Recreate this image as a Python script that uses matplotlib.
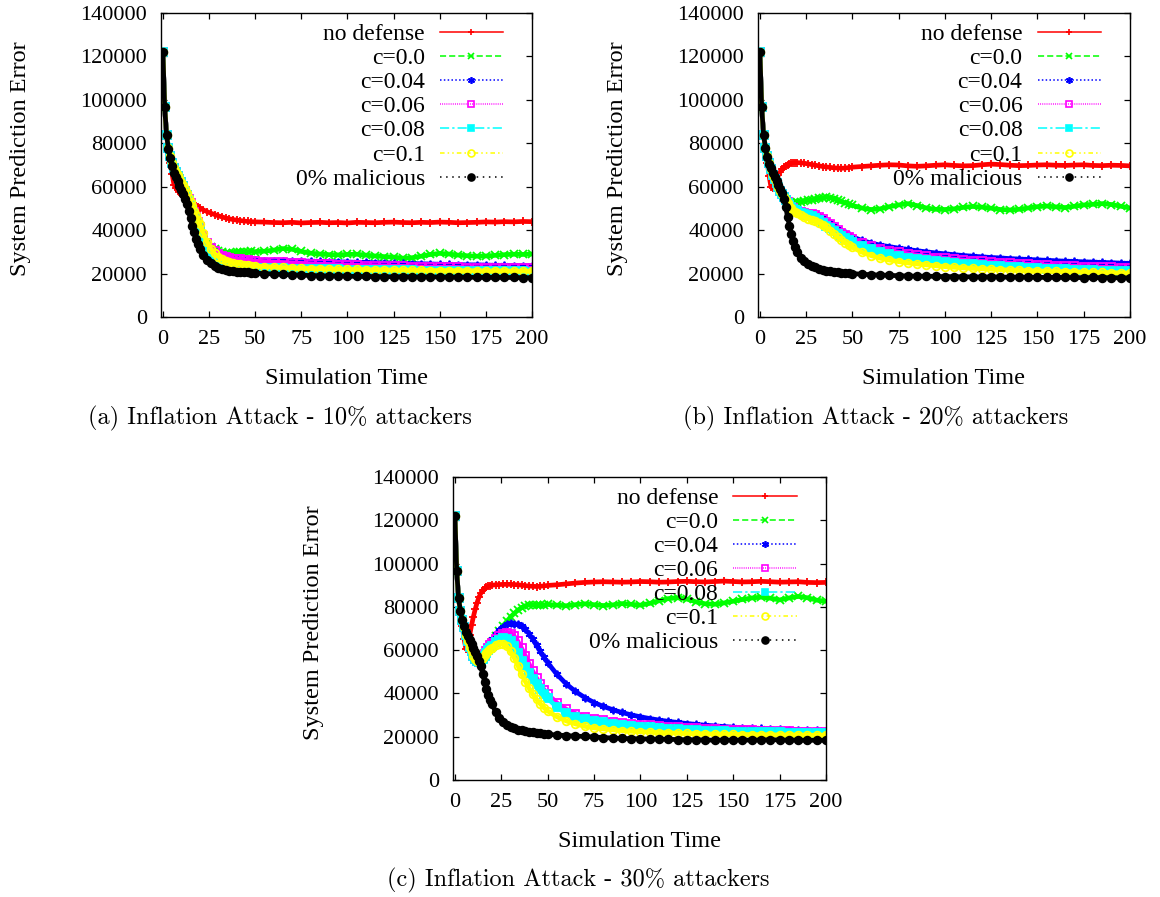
import matplotlib
matplotlib.use('Agg')
import matplotlib.pyplot as plt
from matplotlib.lines import Line2D

plt.rcParams['font.family'] = ['Liberation Serif', 'DejaVu Serif']

# simulation time steps (shared by every series)
t = [0, 1, 2, 3, 4, 5, 6, 7, 8, 9, 10, 11, 12, 13, 14, 15, 16, 17, 18, 19, 20,
     22, 24, 26, 28, 30, 32, 34, 36, 38, 40, 42, 44, 46, 48, 50,
     55, 60, 65, 70, 75, 80, 85, 90, 95, 100, 105, 110, 115, 120, 125, 130, 135, 140,
     145, 150, 155, 160, 165, 170, 175, 180, 185, 190, 195, 200]

# values in thousands
# (a) 10% attackers
a_red = [122, 96.5, 84, 77, 71, 66, 61, 59.5, 58.5, 57.5, 56.5, 55.8, 55, 54.3, 53.6, 53, 52.3, 51.7, 51.1, 50.6, 50.1,
         49.3, 48.5, 47.8, 47.2, 46.6, 46.1, 45.6, 45.2, 44.9, 44.6, 44.4, 44.2, 44.0, 43.9, 43.8,
         43.7, 43.5, 43.4, 43.6, 43.3, 43.5, 43.6, 43.4, 43.5, 43.3, 43.6, 43.5, 43.4, 43.6, 43.7, 43.5, 43.4, 43.6,
         43.5, 43.7, 43.6, 43.4, 43.5, 43.6, 43.8, 43.7, 43.9, 43.8, 44.0, 43.9]
a_green = [122, 96.5, 84, 78, 74, 71, 68.5, 66.8, 65, 63.6, 62, 60.2, 58.2, 56, 54, 52, 50, 47.8, 45.5, 43.2, 41,
           37, 34, 32.3, 31.2, 30.5, 30.0, 29.7, 29.6, 29.7, 29.9, 30.1, 30.1, 30.0, 30.2, 30.1,
           30.3, 30.8, 31.5, 31.2, 30.2, 29.4, 29.0, 28.7, 28.6, 28.8, 28.9, 28.5, 28.1, 27.8, 27.6, 27.1, 27.3, 28.0,
           28.8, 29.3, 29.0, 28.5, 28.2, 28.0, 28.1, 28.4, 28.7, 28.9, 28.8, 29.0]
a_blue = [122, 96.5, 84, 78, 74, 71, 68.5, 66.8, 65, 63.6, 62, 60.2, 58.2, 56, 54, 52, 50, 47.8, 45.5, 43.2, 41,
          37, 33.8, 31.5, 30, 28.8, 28, 27.4, 27, 26.7, 26.5, 26.4, 26.3, 26.2, 26.2, 26.1,
          26.0, 26.0, 26.0, 25.9, 25.8, 25.7, 25.6, 25.5, 25.4, 25.3, 25.2, 25.1, 25.0, 24.9, 24.8, 24.7, 24.6, 24.5,
          24.4, 24.3, 24.2, 24.1, 24.0, 24.0, 23.9, 23.8, 23.8, 23.7, 23.7, 23.6]
a_magenta = [122, 96.5, 84, 78, 74, 71, 68.5, 66.8, 65, 63.6, 62, 60.2, 58.2, 56.2, 54.2, 52.3, 50.3, 48.2, 46, 43.8, 41.5,
             37.5, 34.3, 32, 30.2, 29, 28.2, 27.6, 27.2, 26.9, 26.7, 26.5, 26.3, 26.1, 26.0, 25.8,
             25.5, 25.3, 25.1, 24.9, 24.7, 24.5, 24.3, 24.2, 24.0, 23.9, 23.8, 23.7, 23.6, 23.5, 23.4, 23.3, 23.2, 23.1,
             23.0, 22.9, 22.9, 22.8, 22.7, 22.7, 22.6, 22.6, 22.5, 22.5, 22.4, 22.4]
a_cyan = [122, 96.5, 84, 78, 74, 71, 68.5, 66.8, 65, 63.6, 62, 60.2, 58.2, 56, 53.8, 51.5, 49.3, 47, 44.6, 42, 39.5,
          34.5, 30.5, 28, 26.4, 25.3, 24.6, 24.1, 23.8, 23.5, 23.3, 23.1, 23.0, 22.9, 22.8, 22.7,
          22.6, 22.5, 22.4, 22.3, 22.2, 22.1, 22.0, 22.0, 21.9, 21.8, 21.8, 21.7, 21.7, 21.6, 21.6, 21.5, 21.5, 21.4,
          21.4, 21.3, 21.3, 21.2, 21.2, 21.2, 21.1, 21.1, 21.0, 21.0, 21.0, 20.9]
a_yellow = [122, 96.5, 84, 78, 74, 71, 68.8, 67, 65.3, 63.8, 62.3, 60.6, 58.8, 57, 55, 53, 51, 49, 47, 44.9, 42.8,
            38.5, 34.5, 31.5, 29.3, 27.8, 26.8, 26, 25.4, 25, 24.6, 24.3, 24.1, 23.9, 23.7, 23.5,
            23.2, 23.0, 22.8, 22.6, 22.4, 22.3, 22.2, 22.1, 22.0, 21.9, 21.9, 21.8, 21.7, 21.7, 21.6, 21.6, 21.5, 21.5,
            21.4, 21.4, 21.4, 21.3, 21.3, 21.3, 21.2, 21.2, 21.2, 21.1, 21.1, 21.1]
a_black = [122, 96.5, 84, 77.5, 73, 69.5, 66.5, 64.5, 62.5, 60.5, 58.5, 56.5, 54.3, 52, 49, 45.5, 42, 39, 36, 33.5, 31.5,
           28.5, 26.3, 24.7, 23.5, 22.6, 22, 21.6, 21.3, 21.1, 20.9, 20.8, 20.7, 20.5, 20.4, 20.2,
           20.0, 19.8, 19.6, 19.4, 19.3, 19.1, 19.0, 18.9, 18.9, 18.8, 18.7, 18.7, 18.6, 18.6, 18.5, 18.6, 18.5, 18.4,
           18.5, 18.4, 18.3, 18.4, 18.3, 18.3, 18.2, 18.3, 18.2, 18.2, 18.1, 18.1]

# (b) 20% attackers
b_red = [122, 96.5, 84, 77, 71, 65, 60, 59.5, 61.5, 63.5, 65.3, 66.8, 68, 69, 69.7, 70.2, 70.6, 70.8, 71, 71.1, 71.1,
         71, 70.8, 70.5, 70.2, 69.9, 69.6, 69.3, 69.1, 68.9, 68.7, 68.6, 68.5, 68.6, 68.8, 69.0,
         69.3, 69.6, 69.9, 70.1, 70.0, 69.6, 69.4, 69.6, 69.9, 70.1, 69.8, 69.6, 69.7, 70.1, 70.4, 70.2, 69.9, 69.7,
         69.8, 70.0, 70.1, 69.9, 69.8, 70.0, 70.1, 69.8, 69.7, 69.9, 69.8, 69.6]
b_green = [122, 96.5, 84, 78, 74, 71, 68, 65.5, 63.5, 61.5, 59.8, 58.2, 56.7, 55.3, 54, 53, 52.5, 52.3, 52.4, 52.6, 52.8,
           53.1, 53.4, 53.7, 54, 54.3, 54.6, 54.9, 55.1, 55, 54.5, 53.8, 53.2, 52.6, 52, 51.4,
           50.2, 49.5, 49.8, 50.8, 51.6, 52.2, 51.3, 50.2, 49.6, 49.5, 49.8, 50.5, 50.9, 50.6, 50.1, 49.5, 49.3, 49.6,
           50.2, 50.8, 51.1, 50.7, 50.4, 51.0, 51.6, 51.9, 52.2, 51.8, 51.0, 50.2]
b_blue = [122, 96.5, 84, 78, 74, 71, 68, 65.5, 63.5, 61.5, 59.8, 58.2, 56.7, 55.3, 54, 52.8, 51.7, 50.8, 50.0, 49.4, 48.9,
          48.4, 48.0, 47.7, 47.5, 47.1, 46.4, 45.4, 44.3, 43.1, 41.9, 40.7, 39.6, 38.6, 37.7, 36.9,
          35.3, 34.1, 33.1, 32.4, 31.7, 31.1, 30.5, 30.0, 29.5, 29.1, 28.7, 28.3, 28.0, 27.7, 27.4, 27.2, 26.9, 26.7,
          26.5, 26.3, 26.1, 25.9, 25.7, 25.6, 25.4, 25.3, 25.1, 25.0, 24.8, 24.7]
b_magenta = [122, 96.5, 84, 78, 74, 71, 68, 65.5, 63.5, 61.5, 59.8, 58.2, 56.7, 55.3, 54, 52.8, 51.7, 50.8, 50.0, 49.4, 48.9,
             48.3, 47.9, 47.6, 47.3, 46.8, 46.0, 45.0, 43.9, 42.6, 41.3, 40.0, 38.8, 37.7, 36.7, 35.8,
             34.0, 32.6, 31.5, 30.6, 29.8, 29.1, 28.5, 27.9, 27.4, 27.0, 26.6, 26.2, 25.9, 25.6, 25.3, 25.0, 24.8, 24.5,
             24.3, 24.1, 23.9, 23.7, 23.5, 23.4, 23.2, 23.1, 22.9, 22.8, 22.7, 22.5]
b_cyan = [122, 96.5, 84, 78, 74, 71, 68, 65.5, 63.5, 61.5, 59.8, 58.2, 56.7, 55.3, 54, 52.7, 51.5, 50.5, 49.7, 49.1, 48.6,
          47.9, 47.3, 46.8, 46.3, 45.6, 44.6, 43.4, 42.1, 40.8, 39.6, 38.4, 37.3, 36.3, 35.3, 34.4,
          32.6, 31.1, 29.9, 28.9, 28.1, 27.4, 26.8, 26.2, 25.7, 25.3, 24.9, 24.5, 24.2, 23.9, 23.6, 23.3, 23.1, 22.9,
          22.7, 22.5, 22.3, 22.1, 22.0, 21.8, 21.7, 21.5, 21.4, 21.3, 21.1, 21.0]
b_yellow = [122, 96.5, 84, 78, 74, 71, 68, 65.5, 63.5, 61.5, 59.8, 58.2, 56.7, 55.3, 54, 52.5, 51, 50, 49, 48.3, 47.7,
            46.8, 46, 45.3, 44.6, 44.2, 43.4, 42.5, 41.3, 39.8, 38.3, 36.9, 35.5, 34.2, 33.1, 32.1,
            29.9, 28.3, 27.1, 26.2, 25.5, 24.9, 24.4, 24.0, 23.6, 23.2, 22.9, 22.6, 22.4, 22.2, 22.0, 21.8, 21.6, 21.5,
            21.3, 21.2, 21.1, 21.0, 20.9, 20.8, 20.7, 20.6, 20.5, 20.4, 20.3, 20.2]
b_black = [122, 96.5, 84, 78, 73.5, 70.5, 68.5, 66.5, 64.5, 62.5, 60.8, 59, 57, 54.5, 50.5, 46, 42, 38.3, 35, 32.3, 30,
           27.3, 25.6, 24.5, 23.6, 22.9, 22.3, 21.8, 21.4, 21.1, 20.8, 20.6, 20.4, 20.3, 20.1, 20.0,
           19.7, 19.5, 19.3, 19.2, 19.0, 18.9, 18.8, 18.8, 18.7, 18.6, 18.6, 18.5, 18.5, 18.4, 18.5, 18.4, 18.3, 18.4,
           18.3, 18.3, 18.2, 18.3, 18.2, 18.2, 18.1, 18.2, 18.1, 18.1, 18.0, 18.0]

# (c) 30% attackers
c_red = [122, 96.5, 84, 77, 71, 65, 60.5, 63, 67, 71.5, 75.5, 79, 82, 84.5, 86.3, 87.6, 88.5, 89.1, 89.5, 89.8, 90,
         90.2, 90.3, 90.4, 90.4, 90.4, 90.3, 90.2, 90.0, 89.8, 89.6, 89.5, 89.4, 89.5, 89.7, 89.9,
         90.2, 90.6, 91.0, 91.3, 91.5, 91.6, 91.5, 91.4, 91.5, 91.7, 91.6, 91.4, 91.5, 91.7, 91.8, 91.6, 91.5, 91.7,
         91.9, 91.7, 91.5, 91.6, 91.8, 91.6, 91.4, 91.5, 91.6, 91.3, 91.2, 91.3]
c_green = [122, 96.5, 84, 78, 74, 70.5, 67, 64, 61.5, 59.5, 57.5, 56, 55, 54.5, 55, 56, 57.5, 59.2, 60.8, 62.3, 63.8,
           66.5, 69, 71.3, 73.3, 75.3, 77, 78.5, 79.7, 80.5, 80.9, 81.0, 80.8, 80.7, 80.9, 81.1,
           80.8, 80.5, 81.0, 81.4, 81.0, 80.6, 80.9, 81.5, 81.2, 80.8, 81.6, 82.8, 83.8, 84.2, 83.6, 82.3, 81.4, 81.2,
           81.8, 82.6, 83.4, 84.1, 84.5, 84.0, 83.2, 84.1, 84.8, 84.2, 83.1, 82.6]
c_blue = [122, 96.5, 84, 78, 74, 70.5, 67, 64, 61.5, 59.5, 57.5, 56, 55, 54.8, 55.5, 56.8, 58.5, 60.3, 62, 63.6, 65,
          67.3, 69.4, 70.9, 71.9, 72.4, 72.3, 71.9, 71.1, 69.6, 67.6, 65.0, 62.2, 59.4, 56.7, 54.2,
          48.8, 44.4, 40.9, 38.1, 35.8, 34.0, 32.5, 31.2, 30.1, 29.2, 28.4, 27.7, 27.1, 26.6, 26.1, 25.7, 25.3, 25.0,
          24.7, 24.4, 24.2, 24.0, 23.8, 23.6, 23.4, 23.3, 23.1, 23.0, 22.9, 22.8]
c_magenta = [122, 96.5, 84, 78, 74, 70.5, 67, 64, 61.5, 59.5, 57.5, 56, 55, 54.7, 55.3, 56.5, 58, 59.6, 61, 62.3, 63.4,
             65.2, 66.6, 67.6, 67.9, 67.6, 66.4, 64.0, 60.8, 57.3, 53.6, 50.2, 47.1, 44.3, 41.8, 39.7,
             35.6, 32.7, 30.7, 29.3, 28.3, 27.5, 26.9, 26.4, 26.0, 25.6, 25.2, 24.9, 24.6, 24.3, 24.1, 23.9, 23.7, 23.5,
             23.3, 23.2, 23.0, 22.9, 22.8, 22.7, 22.6, 22.5, 22.4, 22.3, 22.3, 22.2]
c_cyan = [122, 96.5, 84, 78, 74, 70.5, 67, 64, 61.5, 59.5, 57.5, 56, 55, 54.6, 55, 56, 57.4, 58.8, 60, 61.1, 62.1,
          63.7, 64.9, 65.5, 65.3, 64.1, 61.8, 58.6, 55.0, 52.0, 49.5, 46.8, 44.2, 41.9, 39.7, 37.8,
          33.6, 30.9, 29.3, 28.2, 27.3, 26.6, 26.0, 25.5, 25.0, 24.6, 24.3, 24.0, 23.7, 23.4, 23.2, 23.0, 22.8, 22.7,
          22.5, 22.4, 22.3, 22.2, 22.1, 22.0, 22.0, 21.9, 21.9, 21.8, 21.8, 21.7]
c_yellow = [122, 96.5, 84, 78, 74, 70.5, 67, 64, 61.5, 59.5, 57.5, 56, 55, 54.5, 55.3, 56.5, 57.6, 58.6, 59.5, 60.3, 61,
            62.2, 62.9, 63.0, 61.8, 59.5, 56.4, 52.8, 49.0, 45.5, 42.4, 39.7, 37.3, 35.2, 33.4, 31.9,
            29.2, 27.3, 25.9, 24.8, 24.1, 23.6, 23.2, 22.8, 22.5, 22.3, 22.1, 21.9, 21.8, 21.6, 21.5, 21.4, 21.3, 21.2,
            21.2, 21.1, 21.0, 21.0, 20.9, 20.9, 20.8, 20.8, 20.8, 20.7, 20.7, 20.7]
c_black = [122, 96.5, 84, 78, 74, 71, 68.5, 66.5, 64.5, 62.8, 61, 59.2, 57.2, 55.2, 52.5, 49, 45.5, 42, 39.5, 37, 35,
           31.5, 28.5, 26.6, 25.3, 24.4, 23.8, 23.3, 22.9, 22.6, 22.3, 22.0, 21.7, 21.5, 21.3, 21.1,
           20.8, 20.5, 20.3, 20.1, 19.9, 19.6, 19.4, 19.2, 19.1, 19.0, 18.9, 18.9, 18.8, 18.7, 18.6, 18.6, 18.5, 18.4,
           18.5, 18.4, 18.5, 18.4, 18.5, 18.6, 18.5, 18.4, 18.4, 18.3, 18.4, 18.3]

labels = ['no defense', 'c=0.0', 'c=0.04', 'c=0.06', 'c=0.08', 'c=0.1', '0% malicious']
colors = ['#ff0000', '#00ff00', '#0000ff', '#ff00ff', '#00ffff', '#ffff00', '#000000']
markers = ['+', 'x', (6, 2, 0), 's', 's', 'o', 'o']
filled = [True, True, True, False, True, False, True]
styles = ['-', (0, (4, 2)), (0, (1, 1.5)), (0, (0.6, 0.8)), (0, (6, 2, 1.5, 2)), (0, (3, 2, 1, 2, 1, 2)), (0, (1, 3))]

panels = [
    ([a_red, a_green, a_blue, a_magenta, a_cyan, a_yellow, a_black], '(a) Inflation Attack - 10% attackers'),
    ([b_red, b_green, b_blue, b_magenta, b_cyan, b_yellow, b_black], '(b) Inflation Attack - 20% attackers'),
    ([c_red, c_green, c_blue, c_magenta, c_cyan, c_yellow, c_black], '(c) Inflation Attack - 30% attackers'),
]

# axes boxes in pixels: left, top, right, bottom (figure 1160 x 897)
boxes = [(161, 13, 532, 317), (758, 13, 1130, 317), (453, 477, 826, 780)]
caption_pos = [(280, 418), (876, 418), (578, 880)]

W, H = 1160, 897
fig = plt.figure(figsize=(W / 100, H / 100), dpi=100)

for (series, caption), (l, tp, r, b), (cx, cy) in zip(panels, boxes, caption_pos):
    ax = fig.add_axes([l / W, 1 - b / H, (r - l) / W, (b - tp) / H])
    for vals, col, mk, fill in zip(series, colors, markers, filled):
        ys = [v * 1000 for v in vals]
        ax.plot(t, ys, color=col, lw=3.4, marker=mk, ms=5.5, mew=1.3,
                mfc=col if fill else 'none', mec=col)

    ax.set_xlim(-1, 200)
    ax.set_ylim(0, 140000)
    ax.set_xticks(range(0, 201, 25))
    ax.set_yticks(range(0, 140001, 20000))
    ax.tick_params(direction='in', length=4.5, width=0.9, top=True, right=True, labelsize=16)
    ax.tick_params(axis='y', pad=10)
    ax.tick_params(axis='x', pad=9)
    for s in ax.spines.values():
        s.set_linewidth(1.0)

    ax.set_xlabel('Simulation Time', fontsize=17.5)
    ax.xaxis.set_label_coords(0.5, -61 / (b - tp))
    ax.xaxis.label.set_va('center')
    ax.set_ylabel('System Prediction Error', fontsize=17.5)
    ax.yaxis.set_label_coords(-140 / (r - l), 0.52)
    ax.yaxis.label.set_va('center')

    # gnuplot style key, text right aligned and sample to its right
    for i, (lab, col, mk, fill, ls) in enumerate(zip(labels, colors, markers, filled, styles)):
        yy = 0.9385 - i * 0.0795
        ax.text(0.711, yy, lab, transform=ax.transAxes, ha='right', va='center_baseline',
                fontsize=17, zorder=20)
        ax.add_line(Line2D([0.752, 0.921], [yy, yy], transform=ax.transAxes, color=col,
                           lw=1.1, linestyle=ls, clip_on=False, zorder=19))
        ax.add_line(Line2D([0.836], [yy], transform=ax.transAxes, color=col, marker=mk,
                           ms=5, mew=1.2, mfc=col if fill else 'none', mec=col,
                           linestyle='none', clip_on=False, zorder=19))

    fig.text(cx / W, 1 - cy / H, caption, ha='center', va='center', fontsize=17.5,
             family=['cmr10', 'DejaVu Serif'])

fig.savefig('out.png', dpi=100)
